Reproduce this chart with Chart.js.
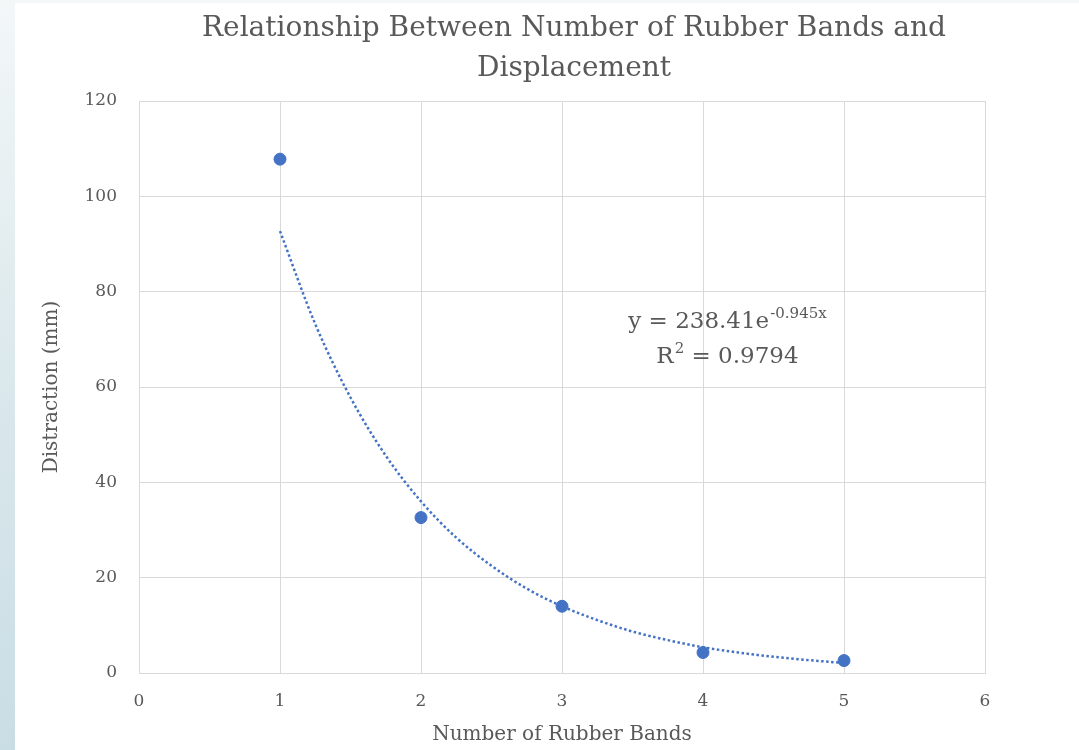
<!DOCTYPE html>
<html lang="en">
<head>
  <meta charset="UTF-8" />
  <title>Rubber Bands vs Displacement</title>
  <script src="https://cdn.jsdelivr.net/npm/chart.js"></script>
  <style>
    html, body { margin: 0; padding: 0; }
    body {
      width: 1079px; height: 750px; overflow: hidden;
      background: linear-gradient(180deg, #f3f7f8 0%, #dbe8ec 50%, #c9dde5 100%);
    }
    #wrap { position: absolute; left: 15px; top: 3px; width: 1064px; height: 747px; background: #fff; }
  </style>
</head>
<body>
  <div id="wrap"><canvas id="chart"></canvas></div>

  <script>
    // measured points
    const bands = [1, 2, 3, 4, 5];
    const distraction = [107.8, 32.6, 14.0, 4.3, 2.6];

    // dotted exponential trendline
    const trendX = [1, 1.25, 1.5, 1.75, 2, 2.25, 2.5, 2.75, 3, 3.25, 3.5, 3.75, 4, 4.25, 4.5, 4.75, 5];
    const trendY = [92.7, 73.2, 57.8, 45.6, 36.0, 28.4, 22.5, 17.7, 14.0, 11.1, 8.7, 6.9, 5.4, 4.3, 3.4, 2.7, 2.1];

    const titleLines = ['Relationship Between Number of Rubber Bands and', 'Displacement'];
    const xTitle = 'Number of Rubber Bands';
    const yTitle = 'Distraction (mm)';

    const blue = '#4472C4';
    const grey = '#595959';
    const gridColor = '#d9d9d9';
    const serif = "'DejaVu Serif', 'Liberation Serif', serif";

    // chart title, sits a bit right of the plot centre like the original
    const titlePlugin = {
      id: 'titlePlugin',
      afterDraw(chart) {
        const { ctx, chartArea } = chart;
        const cx = (chartArea.left + chartArea.right) / 2 + 12;
        ctx.save();
        ctx.fillStyle = grey;
        ctx.font = '28px ' + serif;
        ctx.textAlign = 'center';
        ctx.textBaseline = 'middle';
        ctx.fillText(titleLines[0], cx, 26);
        ctx.fillText(titleLines[1], cx, 66);
        ctx.restore();
      }
    };

    // trendline equation label
    const equationLabel = {
      id: 'equationLabel',
      afterDraw(chart) {
        const { ctx, scales } = chart;
        const cx = scales.x.getPixelForValue(4.17);
        const y1 = scales.y.getPixelForValue(73.6);
        const y2 = scales.y.getPixelForValue(66.3);
        ctx.save();
        ctx.fillStyle = grey;
        ctx.textBaseline = 'middle';
        ctx.textAlign = 'left';

        const big = '23px ' + serif, small = '15px ' + serif;
        // line 1: y = 238.41e^-0.945x
        ctx.font = big;
        const a = 'y = 238.41e';
        const wa = ctx.measureText(a).width;
        ctx.font = small;
        const b = '-0.945x';
        const wb = ctx.measureText(b).width;
        let x0 = cx - (wa + wb) / 2;
        ctx.font = big;
        ctx.fillText(a, x0, y1);
        ctx.font = small;
        ctx.fillText(b, x0 + wa + 1, y1 - 8);

        // line 2: R^2 = 0.9794
        ctx.font = big;
        const r = 'R', rest = ' = 0.9794';
        const wr = ctx.measureText(r).width, wrest = ctx.measureText(rest).width;
        ctx.font = small;
        const w2 = ctx.measureText('2').width;
        x0 = cx - (wr + w2 + wrest) / 2;
        ctx.font = big;
        ctx.fillText(r, x0, y2);
        ctx.font = small;
        ctx.fillText('2', x0 + wr + 1, y2 - 8);
        ctx.font = big;
        ctx.fillText(rest, x0 + wr + w2 + 1, y2);
        ctx.restore();
      }
    };

    new Chart(document.getElementById('chart'), {
      type: 'scatter',
      data: {
        datasets: [
          {
            type: 'line',
            label: 'Trend',
            data: trendX.map((x, i) => ({ x, y: trendY[i] })),
            borderColor: blue,
            borderWidth: 2.5,
            borderDash: [2.5, 2.5],
            pointRadius: 0,
            cubicInterpolationMode: 'monotone',
            fill: false
          },
          {
            label: 'Distraction',
            data: bands.map((x, i) => ({ x, y: distraction[i] })),
            backgroundColor: blue,
            borderColor: blue,
            pointRadius: 6,
            pointHoverRadius: 6
          }
        ]
      },
      options: {
        responsive: true,
        maintainAspectRatio: false,
        animation: false,
        layout: { padding: { left: 0, right: 94, top: 98, bottom: 0 } },
        plugins: {
          legend: { display: false },
          tooltip: { enabled: false },
          title: { display: false }
        },
        scales: {
          x: {
            type: 'linear',
            min: 0, max: 6,
            ticks: { stepSize: 1, color: grey, padding: 18, font: { family: serif, size: 17 } },
            grid: { color: gridColor, drawTicks: false },
            border: { color: gridColor },
            title: {
              display: true, text: xTitle, color: grey,
              font: { family: serif, size: 20 },
              padding: { top: 0, bottom: 3 }
            },
            afterFit(scale) { scale.height = 77; }
          },
          y: {
            min: 0, max: 120,
            ticks: { stepSize: 20, color: grey, padding: 22, font: { family: serif, size: 17 } },
            grid: { color: gridColor, drawTicks: false },
            border: { color: gridColor },
            title: {
              display: true, text: yTitle, color: grey,
              font: { family: serif, size: 20 },
              padding: { top: 25, bottom: 0 }
            },
            afterFit(scale) { scale.width = 124; }
          }
        }
      },
      plugins: [titlePlugin, equationLabel]
    });
  </script>
</body>
</html>
